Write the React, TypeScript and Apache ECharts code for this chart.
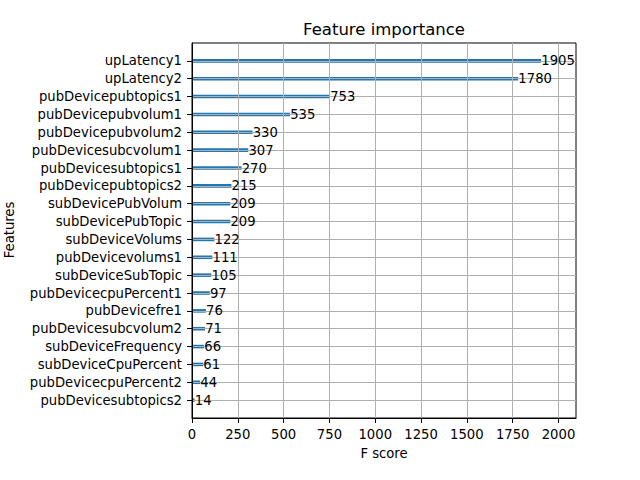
import React, { useEffect, useRef } from "react";
import * as echarts from "echarts";

const features = [
  "upLatency1",
  "upLatency2",
  "pubDevicepubtopics1",
  "pubDevicepubvolum1",
  "pubDevicepubvolum2",
  "pubDevicesubcvolum1",
  "pubDevicesubtopics1",
  "pubDevicepubtopics2",
  "subDevicePubVolum",
  "subDevicePubTopic",
  "subDeviceVolums",
  "pubDevicevolums1",
  "subDeviceSubTopic",
  "pubDevicecpuPercent1",
  "pubDevicefre1",
  "pubDevicesubcvolum2",
  "subDeviceFrequency",
  "subDeviceCpuPercent",
  "pubDevicecpuPercent2",
  "pubDevicesubtopics2",
];
const scores = [1905, 1780, 753, 535, 330, 307, 270, 215, 209, 209, 122, 111, 105, 97, 76, 71, 66, 61, 44, 14];
const xTicks = [0, 250, 500, 750, 1000, 1250, 1500, 1750, 2000];

const FONT = "DejaVu Sans";
const FS = 13.2;

export default function App() {
  const ref = useRef<HTMLDivElement>(null);
  useEffect(() => {
    if (!ref.current) return;
    const chart = echarts.init(ref.current, null, { renderer: "svg" });
    const n = features.length;
    const data = scores.map((v, i) => [v, n - 1 - i]);
    const xMax = Math.max(...scores) * 1.1;
    const yTicks = features.map((_, i) => i);
    chart.setOption({
      animation: false,
      backgroundColor: "#ffffff",
      textStyle: { fontFamily: FONT },
      grid: {
        left: 192,
        top: 43,
        right: 64,
        bottom: 62,
        show: true,
        borderColor: "#000",
        borderWidth: 1,
        backgroundColor: "transparent",
      },
      xAxis: {
        type: "value",
        min: 0,
        max: xMax,
        interval: 250,
        z: 3,
        axisLine: { show: true, onZero: false, lineStyle: { color: "#000", width: 1 } },
        axisTick: { show: true, length: 5, lineStyle: { color: "#000" }, customValues: xTicks },
        axisLabel: {
          show: true,
          margin: 10,
          color: "#000",
          fontSize: FS,
          fontFamily: FONT,
          customValues: xTicks,
          formatter: (v: number) => String(v),
        },
        splitLine: { show: true, lineStyle: { color: "#b0b0b0", width: 1 } },
      },
      yAxis: {
        type: "value",
        min: -1,
        max: n,
        interval: 1,
        z: 3,
        axisLine: { show: true, onZero: false, lineStyle: { color: "#000", width: 1 } },
        axisTick: { show: true, length: 5, lineStyle: { color: "#000" }, customValues: yTicks },
        axisLabel: {
          show: true,
          margin: 10,
          color: "#000",
          fontSize: FS,
          fontFamily: FONT,
          customValues: yTicks,
          formatter: (v: number) => {
            const idx = n - 1 - Math.round(v);
            return idx >= 0 && idx < n ? features[idx] : "";
          },
        },
        splitLine: { show: true, lineStyle: { color: "#b0b0b0", width: 1 } },
      },
      series: [
        {
          type: "custom",
          z: 2,
          data,
          encode: { x: 0, y: 1 },
          renderItem: (params: any, api: any) => {
            const v = api.value(0);
            const idx = api.value(1);
            const p0 = api.coord([0, idx + 0.1]);
            const p1 = api.coord([v, idx - 0.1]);
            return {
              type: "rect",
              shape: { x: p0[0], y: p0[1], width: p1[0] - p0[0], height: p1[1] - p0[1] },
              style: { fill: "#1f77b4" },
            };
          },
        },
        {
          type: "custom",
          z: 5,
          data,
          encode: { x: 0, y: 1 },
          renderItem: (params: any, api: any) => {
            const v = api.value(0);
            const idx = api.value(1);
            const p = api.coord([v + 1, idx]);
            return {
              type: "text",
              x: p[0],
              y: p[1],
              style: {
                text: String(v),
                fill: "#000",
                fontSize: FS,
                fontFamily: FONT,
                align: "left",
                verticalAlign: "middle",
              },
            };
          },
        },
      ],
      graphic: [
        {
          type: "text",
          x: 384,
          y: 29,
          style: {
            text: "Feature importance",
            fill: "#000",
            fontSize: 16.5,
            fontFamily: FONT,
            align: "center",
            verticalAlign: "middle",
          },
        },
        {
          type: "text",
          x: 384,
          y: 453,
          style: {
            text: "F score",
            fill: "#000",
            fontSize: FS,
            fontFamily: FONT,
            align: "center",
            verticalAlign: "middle",
          },
        },
        {
          type: "text",
          x: 9,
          y: 230,
          rotation: Math.PI / 2,
          style: {
            text: "Features",
            fill: "#000",
            fontSize: FS,
            fontFamily: FONT,
            align: "center",
            verticalAlign: "middle",
          },
        },
      ],
    });
    return () => chart.dispose();
  }, []);
  return (
    <div
      ref={ref}
      style={{ position: "absolute", left: 0, top: 0, width: 640, height: 480 }}
    />
  );
}
